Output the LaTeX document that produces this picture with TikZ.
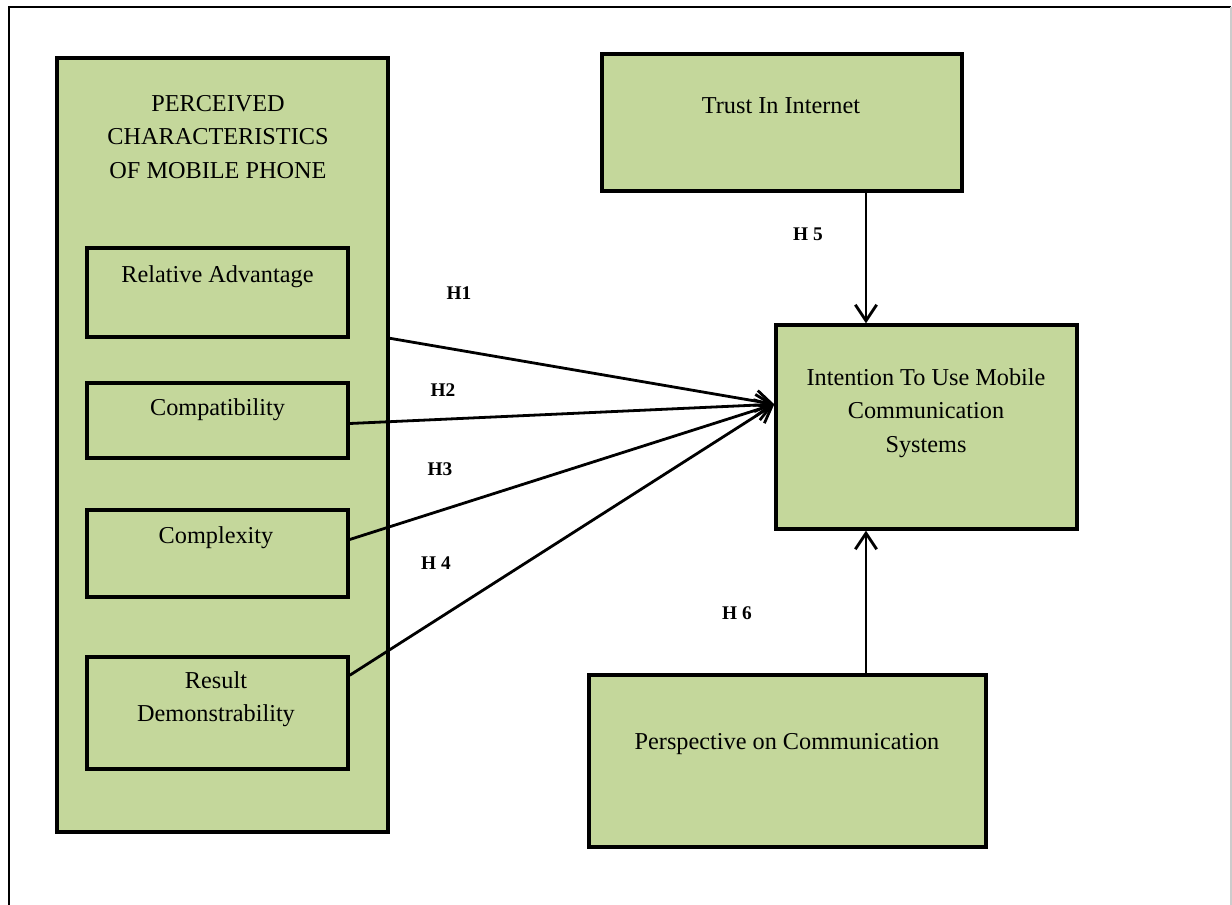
\documentclass[tikz,border=0pt]{standalone}
\usepackage{fontspec}
\setmainfont{Liberation Serif}
\usetikzlibrary{arrows.meta,calc}
\definecolor{boxgreen}{RGB}{196,215,155}
\tikzset{
  greenbox/.style={draw=black,line width=2.6pt,fill=boxgreen,inner sep=0pt},
  boxtext/.style={font=\fontsize{18.2}{25}\selectfont,align=center,inner sep=0pt,anchor=center},
  hlabel/.style={font=\bfseries\fontsize{14.5}{16}\selectfont,inner sep=0pt},
  link/.style={line width=2.1pt,-{Straight Barb[length=12pt,width=16pt,line width=2.1pt]}}
}
\begin{document}
\begin{tikzpicture}[x=0.75pt,y=-0.75pt]
\useasboundingbox (0,0) rectangle (1232,905);
% outer frame
\draw[line width=1.8pt] (9,905) -- (9,7) -- (1231,7);
\draw[line width=0.8pt,gray!40] (1231,7) -- (1231,905);
% left big box
\node[greenbox,minimum width=331*0.75pt,minimum height=774*0.75pt] (big) at (222.5,445) {};
\node[boxtext] (title) at (218,137) {PERCEIVED\\CHARACTERISTICS\\OF MOBILE PHONE};
% inner boxes
\node[greenbox,minimum width=261*0.75pt,minimum height=89*0.75pt] (ra) at (217.5,292.5) {};
\node[boxtext] (ratext) at (217.5,277) {Relative Advantage};
\node[greenbox,minimum width=261*0.75pt,minimum height=75*0.75pt] (comp) at (217.5,420.5) {};
\node[boxtext] (comptext) at (217.5,410) {Compatibility};
\node[greenbox,minimum width=261*0.75pt,minimum height=87*0.75pt] (cplx) at (217.5,553.5) {};
\node[boxtext] (cplxtext) at (216,538) {Complexity};
\node[greenbox,minimum width=261*0.75pt,minimum height=112*0.75pt] (rd) at (217.5,713) {};
\node[boxtext] (rdtext) at (216,699) {Result\\Demonstrability};
% right boxes
\node[greenbox,minimum width=360*0.75pt,minimum height=137*0.75pt] (trust) at (782,122.5) {};
\node[boxtext] (trusttext) at (781,106) {Trust In Internet};
\node[greenbox,minimum width=301*0.75pt,minimum height=204*0.75pt] (int) at (926.5,427) {};
\node[boxtext] (inttext) at (926,413) {Intention To Use Mobile\\Communication\\Systems};
\node[greenbox,minimum width=397*0.75pt,minimum height=172*0.75pt] (persp) at (787.5,761) {};
\node[boxtext] (persptext) at (787,744) {Perspective on Communication};
% target point
\coordinate (tgt) at ($(int.north west)+(0,-81*0.75pt)$);
% arrows
\draw[link] ($(big.north east)+(0,-282*0.75pt)$) -- (tgt);
\draw[link] ($(comp.east)+(0,-3*0.75pt)$) -- (tgt);
\draw[link] ($(cplx.east)+(0,14*0.75pt)$) -- (tgt);
\draw[link] ($(rd.north east)+(0,-20*0.75pt)$) -- (tgt);
\draw[link] (trust.south -| 866,0) -- (int.north -| 866,0);
\draw[link] (persp.north -| 866,0) -- (int.south -| 866,0);
% labels
\node[hlabel] (h1) at (459,293) {H1};
\node[hlabel] (h2) at (443,390) {H2};
\node[hlabel] (h3) at (440,469) {H3};
\node[hlabel] (h4) at (436,563) {H 4};
\node[hlabel] (h5) at (808,234) {H 5};
\node[hlabel] (h6) at (737,613) {H 6};
\end{tikzpicture}
\end{document}
